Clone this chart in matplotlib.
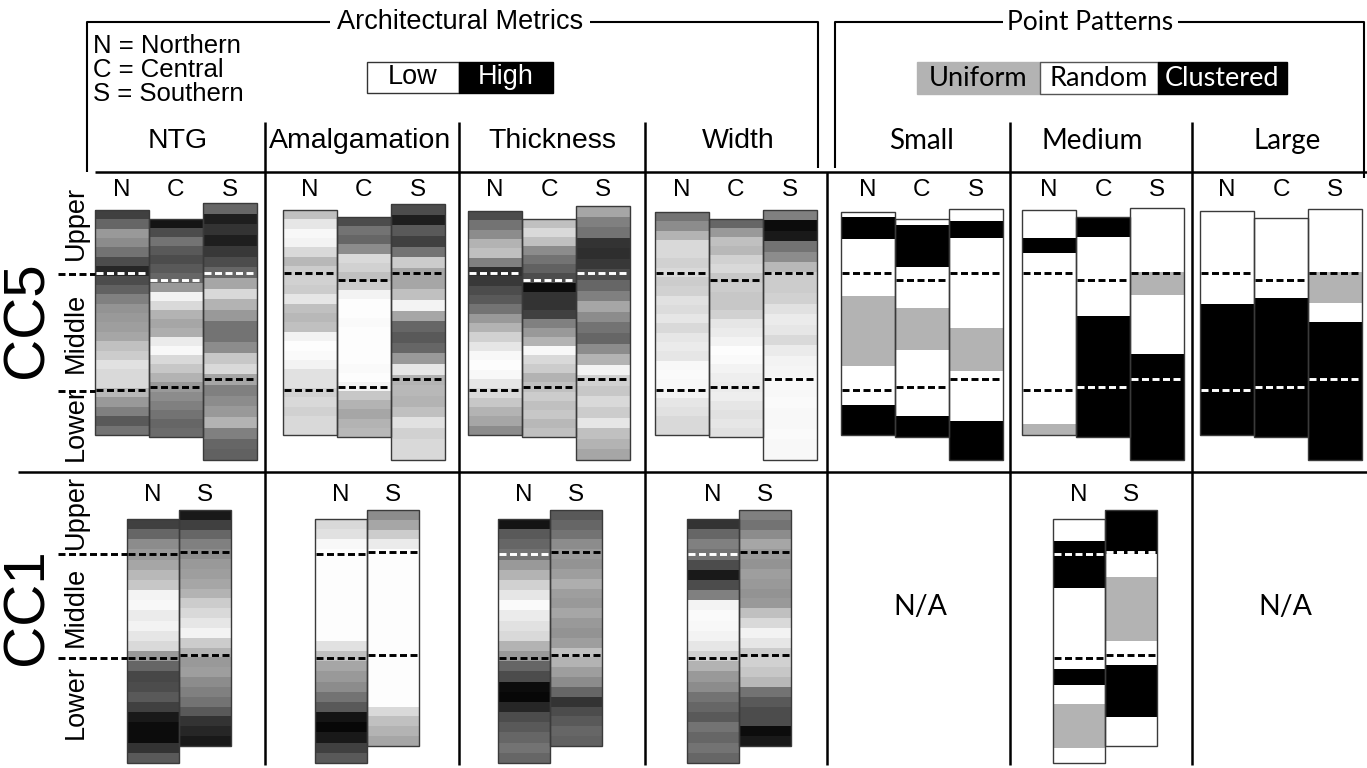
import matplotlib
matplotlib.use("Agg")
import matplotlib.pyplot as plt
import numpy as np
from matplotlib.patches import Rectangle

# ------------------------------------------------------------------ data
arch_metrics = ["NTG", "Amalgamation", "Thickness", "Width"]
pp_sizes = ["Small", "Medium", "Large"]
regions_cc5 = ["N", "C", "S"]
regions_cc1 = ["N", "S"]
intervals = ["Upper", "Middle", "Lower"]
pattern_names = ["Uniform", "Random", "Clustered"]
region_legend = ["N = Northern", "C = Central", "S = Southern"]

# lightness of each band, top -> bottom (1 = low value / white, 0 = high value / black)
cc5_ntg_n = [0.25, 0.40, 0.60, 0.55, 0.45, 0.30, 0.15, 0.30, 0.38, 0.50, 0.58, 0.60,
             0.62, 0.65, 0.75, 0.80, 0.88, 0.85, 0.85, 0.72, 0.60, 0.50, 0.35, 0.45]
cc5_ntg_c = [0.08, 0.30, 0.45, 0.35, 0.30, 0.35, 0.40, 0.60, 0.95, 0.85, 0.70, 0.65,
             0.68, 0.92, 0.97, 0.85, 0.78, 0.70, 0.60, 0.55, 0.50, 0.45, 0.40, 0.42]
cc5_ntg_s = [0.40, 0.12, 0.20, 0.12, 0.22, 0.30, 0.40, 0.65, 0.85, 0.70, 0.60, 0.45,
             0.45, 0.55, 0.78, 0.85, 0.65, 0.50, 0.55, 0.60, 0.70, 0.50, 0.40, 0.38]
cc5_amal_n = [0.75, 0.90, 0.97, 0.95, 0.85, 0.72, 0.80, 0.82, 0.80, 0.90, 0.75, 0.72,
              0.75, 0.95, 0.99, 0.98, 0.95, 0.88, 0.88, 0.82, 0.85, 0.82, 0.85, 0.85]
cc5_amal_c = [0.30, 0.45, 0.40, 0.55, 0.85, 0.82, 0.75, 0.80, 0.95, 0.99, 0.99, 0.98,
              0.99, 0.99, 0.99, 0.99, 0.98, 0.99, 0.95, 0.78, 0.70, 0.65, 0.70, 0.72]
cc5_amal_s = [0.30, 0.12, 0.35, 0.25, 0.45, 0.80, 0.65, 0.65, 0.75, 0.95, 0.65, 0.40,
              0.35, 0.40, 0.60, 0.90, 0.70, 0.72, 0.70, 0.75, 0.88, 0.82, 0.85, 0.85]
cc5_thick_n = [0.30, 0.45, 0.55, 0.70, 0.75, 0.50, 0.18, 0.22, 0.30, 0.35, 0.45, 0.60,
               0.70, 0.82, 0.90, 0.97, 0.99, 0.97, 0.90, 0.85, 0.78, 0.70, 0.65, 0.55]
cc5_thick_c = [0.75, 0.85, 0.75, 0.55, 0.45, 0.38, 0.30, 0.05, 0.20, 0.20, 0.25, 0.50,
               0.60, 0.70, 0.97, 0.85, 0.80, 0.70, 0.75, 0.80, 0.75, 0.78, 0.72, 0.75]
cc5_thick_s = [0.65, 0.50, 0.45, 0.20, 0.18, 0.22, 0.30, 0.40, 0.50, 0.65, 0.55, 0.45,
               0.40, 0.55, 0.70, 0.95, 0.82, 0.78, 0.85, 0.80, 0.90, 0.75, 0.70, 0.65]
cc5_width_n = [0.45, 0.55, 0.70, 0.85, 0.85, 0.82, 0.85, 0.80, 0.82, 0.88, 0.86, 0.90,
               0.85, 0.90, 0.92, 0.90, 0.97, 0.98, 0.97, 0.95, 0.90, 0.88, 0.85, 0.85]
cc5_width_c = [0.40, 0.60, 0.75, 0.72, 0.82, 0.85, 0.78, 0.80, 0.78, 0.78, 0.82, 0.90,
               0.92, 0.95, 0.99, 0.98, 0.95, 0.93, 0.92, 0.93, 0.90, 0.88, 0.90, 0.88]
cc5_width_s = [0.50, 0.05, 0.10, 0.45, 0.55, 0.72, 0.80, 0.80, 0.82, 0.88, 0.92, 0.90,
               0.85, 0.92, 0.95, 0.96, 0.97, 0.97, 0.98, 0.97, 0.97, 0.98, 0.97, 0.97]

cc1_ntg_n = [0.25, 0.40, 0.55, 0.60, 0.65, 0.72, 0.78, 0.95, 0.97, 0.92, 0.95, 0.90,
             0.85, 0.60, 0.40, 0.28, 0.30, 0.35, 0.25, 0.10, 0.05, 0.05, 0.20, 0.35]
cc1_ntg_s = [0.10, 0.25, 0.40, 0.50, 0.55, 0.60, 0.62, 0.65, 0.70, 0.80, 0.85, 0.90,
             0.95, 0.80, 0.70, 0.60, 0.62, 0.55, 0.50, 0.45, 0.35, 0.20, 0.15, 0.10]
cc1_amal_n = [0.85, 0.88, 0.97, 0.99, 0.99, 0.99, 0.99, 0.99, 0.99, 0.99, 0.99, 0.99,
              0.88, 0.75, 0.65, 0.60, 0.55, 0.45, 0.35, 0.08, 0.03, 0.10, 0.25, 0.35]
cc1_amal_s = [0.55, 0.65, 0.80, 0.92, 0.99, 0.99, 0.99, 0.99, 0.99, 0.99, 0.99, 0.99,
              0.99, 0.99, 0.99, 0.99, 0.99, 0.99, 0.99, 0.99, 0.85, 0.75, 0.70, 0.65]
cc1_thick_n = [0.08, 0.35, 0.40, 0.45, 0.60, 0.70, 0.82, 0.90, 0.98, 0.92, 0.88, 0.85,
               0.70, 0.60, 0.40, 0.30, 0.05, 0.03, 0.15, 0.30, 0.35, 0.40, 0.45, 0.40]
cc1_thick_s = [0.35, 0.40, 0.45, 0.55, 0.60, 0.58, 0.62, 0.68, 0.62, 0.60, 0.65, 0.60,
               0.58, 0.62, 0.75, 0.70, 0.62, 0.55, 0.40, 0.20, 0.30, 0.35, 0.40, 0.38]
cc1_width_n = [0.20, 0.40, 0.50, 0.45, 0.30, 0.10, 0.30, 0.50, 0.95, 0.98, 0.97, 0.95,
               0.90, 0.82, 0.70, 0.60, 0.55, 0.45, 0.40, 0.35, 0.45, 0.40, 0.45, 0.40]
cc1_width_s = [0.50, 0.45, 0.55, 0.65, 0.60, 0.58, 0.62, 0.60, 0.58, 0.60, 0.75, 0.85,
               0.95, 0.90, 0.80, 0.82, 0.78, 0.72, 0.45, 0.35, 0.30, 0.30, 0.05, 0.10]

# point patterns: class per interval (U/R/C) and relative thickness, top -> bottom
cc5_small_n = (["R", "C", "R", "U", "R", "C"], [5, 22, 57, 71, 39, 30])
cc5_small_c = (["R", "C", "R", "U", "R", "C"], [6, 42, 41, 43, 66, 21])
cc5_small_s = (["R", "C", "R", "U", "R", "C"], [12, 17, 91, 43, 51, 39])
cc5_medium_n = (["R", "C", "R", "U"], [28, 15, 172, 11])
cc5_medium_c = (["C", "R", "C"], [20, 79, 122])
cc5_medium_s = (["R", "U", "R", "C"], [65, 23, 60, 107])
cc5_large_n = (["R", "C"], [93, 132])
cc5_large_c = (["R", "C"], [80, 140])
cc5_large_s = (["R", "U", "R", "C"], [64, 31, 19, 139])
cc1_medium_n = (["R", "C", "R", "C", "R", "U", "R"], [22, 47, 81, 16, 19, 44, 15])
cc1_medium_s = (["C", "R", "U", "R", "C", "R"], [44, 22, 64, 24, 51, 29])

# ------------------------------------------------------------------ style / layout
ARIAL = "Liberation Sans"
MYRIAD = "Lato"
pat_color = {"U": "#b3b3b3", "R": "#ffffff", "C": "#000000"}
DASH = (0, (2.4, 1.2))

fig = plt.figure(figsize=(13.67, 7.68), dpi=100)
ax = fig.add_axes([0, 0, 1, 1])
ax.axis("off")

cc5_left = [95, 283, 468, 655, 841, 1022, 1200]
cc5_w = 54
cc5_top = {"N": [210, 210, 211, 212, 212, 210, 211],
           "C": [219, 217, 219, 219, 219, 217, 218],
           "S": [203, 204, 206, 210, 209, 208, 209]}
cc5_bot = {"N": 435, "C": 437, "S": 460}
cc5_b1 = {"N": 273, "C": 280, "S": 273}
cc5_b2 = {"N": 390, "C": 387, "S": 379}

cc1_left = [127, 315, 498, 687, None, 1053, None]
cc1_w = 52
cc1_top = {"N": 519, "S": 510}
cc1_bot = {"N": 763, "S": 746}
cc1_b1 = {"N": 554, "S": 552}
cc1_b2 = {"N": 658, "S": 655}


def line(xs, ys, lw=1.6, color="black", **kw):
    ax.plot(xs, ys, color=color, lw=lw, solid_capstyle="butt", zorder=5, **kw)


def dash(x0, x1, y, color):
    ax.plot([x0, x1], [y, y], color=color, lw=2.1, linestyle=DASH,
            dash_capstyle="butt", zorder=6)


def grad_col(x0, w, top, bot, vals, b1, b2):
    arr = np.array(vals, float)[:, None]
    ax.imshow(arr, cmap="gray", vmin=0, vmax=1, extent=(x0, x0 + w, bot, top),
              aspect="auto", interpolation="nearest", zorder=2)
    ax.add_patch(Rectangle((x0, top), w, bot - top, fill=False, ec="#3a3a3a",
                           lw=1.0, zorder=3))
    n = len(vals)
    for yb in (b1, b2):
        idx = min(n - 1, int((yb - top) / (bot - top) * n))
        dash(x0 + 1, x0 + w - 1, yb, "white" if vals[idx] < 0.5 else "black")


def pat_col(x0, w, top, bot, spec, b1, b2):
    codes, thk = spec
    edges = np.concatenate([[0], np.cumsum(thk)]) / float(sum(thk)) * (bot - top) + top
    for c, y0, y1 in zip(codes, edges[:-1], edges[1:]):
        ax.add_patch(Rectangle((x0, y0), w, y1 - y0, fc=pat_color[c], ec="none", zorder=2))
    ax.add_patch(Rectangle((x0, top), w, bot - top, fill=False, ec="#3a3a3a",
                           lw=1.0, zorder=3))
    for yb in (b1, b2):
        k = int(np.searchsorted(edges, yb) - 1)
        k = max(0, min(len(codes) - 1, k))
        dash(x0 + 1, x0 + w - 1, yb, "white" if codes[k] == "C" else "black")


cc5_grad = [[cc5_ntg_n, cc5_ntg_c, cc5_ntg_s],
            [cc5_amal_n, cc5_amal_c, cc5_amal_s],
            [cc5_thick_n, cc5_thick_c, cc5_thick_s],
            [cc5_width_n, cc5_width_c, cc5_width_s]]
cc5_pat = [[cc5_small_n, cc5_small_c, cc5_small_s],
           [cc5_medium_n, cc5_medium_c, cc5_medium_s],
           [cc5_large_n, cc5_large_c, cc5_large_s]]
cc1_grad = [[cc1_ntg_n, cc1_ntg_s], [cc1_amal_n, cc1_amal_s],
            [cc1_thick_n, cc1_thick_s], [cc1_width_n, cc1_width_s]]
cc1_pat = {5: [cc1_medium_n, cc1_medium_s]}

# CC5 row
for p in range(7):
    for j, r in enumerate(regions_cc5):
        x0 = cc5_left[p] + j * cc5_w
        top = cc5_top[r][p]
        if p < 4:
            grad_col(x0, cc5_w, top, cc5_bot[r], cc5_grad[p][j], cc5_b1[r], cc5_b2[r])
        else:
            pat_col(x0, cc5_w, top, cc5_bot[r], cc5_pat[p - 4][j], cc5_b1[r], cc5_b2[r])
        ax.text(x0 + cc5_w / 2, 190, r, ha="center", va="center", fontsize=17.5,
                family=ARIAL)

# CC1 row
for p in range(7):
    if cc1_left[p] is None:
        continue
    for j, r in enumerate(regions_cc1):
        x0 = cc1_left[p] + j * cc1_w
        if p < 4:
            grad_col(x0, cc1_w, cc1_top[r], cc1_bot[r], cc1_grad[p][j], cc1_b1[r], cc1_b2[r])
        else:
            pat_col(x0, cc1_w, cc1_top[r], cc1_bot[r], cc1_pat[p][j], cc1_b1[r], cc1_b2[r])
        ax.text(x0 + cc1_w / 2, 495, r, ha="center", va="center", fontsize=17.5,
                family=ARIAL)

# dotted interval markers at the left
for yb in (274, 391):
    dash(58, 95, yb, "black")
for yb in (554, 658):
    dash(58, 127, yb, "black")

# N/A labels
for xc in (920, 1285):
    ax.text(xc, 607, "N/A", ha="center", va="center", fontsize=20.5, family=MYRIAD)

# grid lines
line([95, 1367], [172, 172], lw=1.8)
line([18, 1367], [472, 472], lw=1.8)
for xd in (265, 459, 645, 1010, 1192):
    line([xd, xd], [122, 765], lw=1.8)
line([827, 827], [172, 765], lw=1.8)

# brackets
line([87, 87, 330], [172, 22, 22], lw=1.5)
line([590, 818, 818], [22, 22, 168], lw=1.5)
ax.text(460, 22, "Architectural Metrics", ha="center", va="center", fontsize=19.5,
        family=ARIAL)
line([835, 835, 1003], [168, 22, 22], lw=1.5)
line([1178, 1364, 1364], [22, 22, 178], lw=1.5)
ax.text(1090, 22, "Point Patterns", ha="center", va="center", fontsize=19,
        family=MYRIAD)

# header labels
for name, xc in zip(arch_metrics, (178, 360, 552, 738)):
    ax.text(xc, 141, name, ha="center", va="center", fontsize=20.5, family=ARIAL)
for name, xc in zip(pp_sizes, (922, 1092, 1287)):
    ax.text(xc, 141, name, ha="center", va="center", fontsize=20, family=MYRIAD)

for k, s in enumerate(region_legend):
    ax.text(93, 46 + 24 * k, s, ha="left", va="center", fontsize=18.5, family=ARIAL)

# Low / High legend
ax.add_patch(Rectangle((367, 62), 92, 31, fc="white", ec="#333333", lw=1.0, zorder=3))
ax.add_patch(Rectangle((459, 62), 94, 31, fc="black", ec="black", lw=1.0, zorder=3))
ax.text(413, 77.5, "Low", ha="center", va="center", fontsize=19.5, family=ARIAL, zorder=4)
ax.text(506, 77.5, "High", ha="center", va="center", fontsize=19.5, family=ARIAL,
        color="white", zorder=4)

# Uniform / Random / Clustered legend
pl = [(917, 1040, "U"), (1040, 1158, "R"), (1158, 1287, "C")]
for (xa, xb, c), name in zip(pl, pattern_names):
    ax.add_patch(Rectangle((xa, 62), xb - xa, 32, fc=pat_color[c],
                           ec="#555555" if c == "R" else pat_color[c], lw=1.0, zorder=3))
    ax.text((xa + xb) / 2, 78, name, ha="center", va="center", fontsize=19.5,
            family=MYRIAD, color="white" if c == "C" else "black", zorder=4)

# row labels
ax.text(27, 320, "CC5", rotation=90, ha="center", va="center", fontsize=42, family=ARIAL)
ax.text(27, 607, "CC1", rotation=90, ha="center", va="center", fontsize=42, family=ARIAL)
for name, yc in zip(intervals, (223, 333, 424)):
    ax.text(76, yc, name, rotation=90, ha="center", va="center", fontsize=19.5,
            family=ARIAL)
for name, yc in zip(intervals, (512, 607, 702)):
    ax.text(76, yc, name, rotation=90, ha="center", va="center", fontsize=19.5,
            family=ARIAL)

ax.set_xlim(0, 1367)
ax.set_ylim(768, 0)
fig.savefig("out.png", dpi=100, facecolor="white")
